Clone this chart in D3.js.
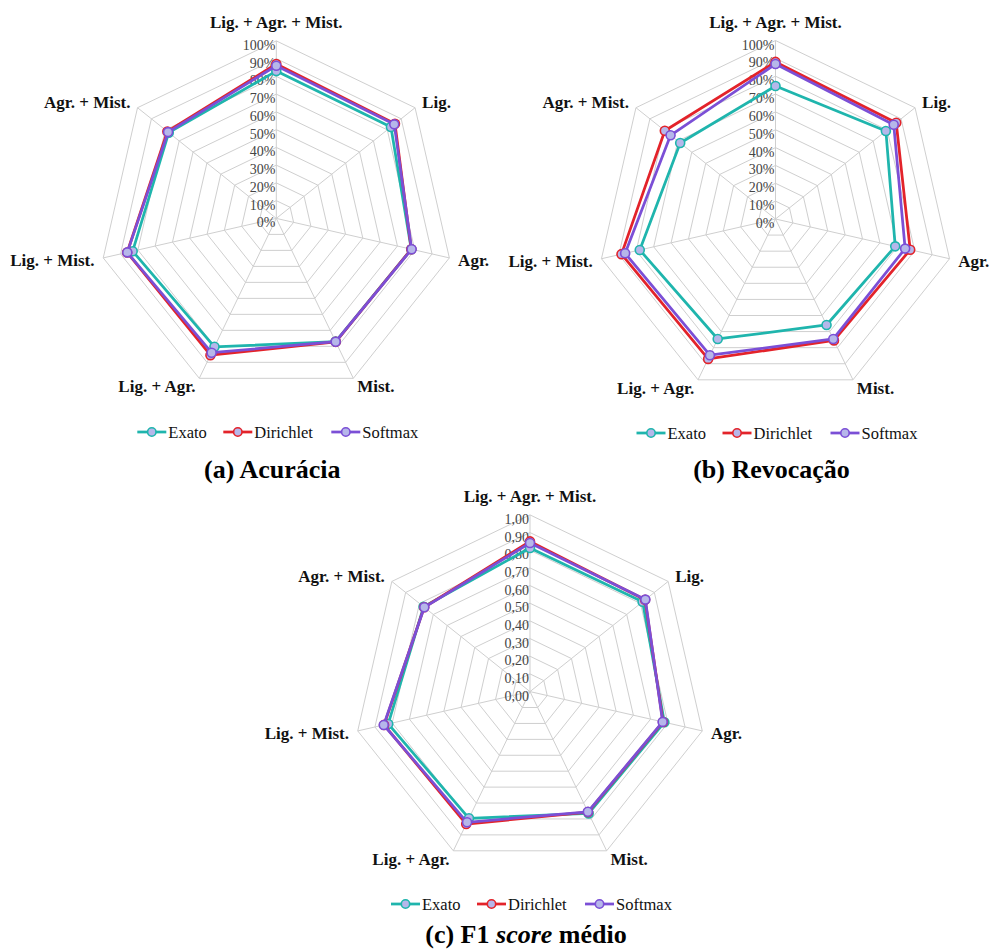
<!DOCTYPE html>
<html>
<head>
<meta charset="utf-8">
<script src="https://cdn.jsdelivr.net/npm/d3@7"></script>
<style>
  html, body { margin: 0; padding: 0; background: #fff; }
  svg { display: block; }
  svg text { font-family: "Liberation Serif", "Times New Roman", Tinos, serif; }
</style>
</head>
<body>
<svg id="fig" width="990" height="949"></svg>
<script>
// Axes of every radar, clockwise from the top
const categories = ["Lig. + Agr. + Mist.", "Lig.", "Agr.", "Mist.", "Lig. + Agr.", "Lig. + Mist.", "Agr. + Mist."];
const seriesNames = ["Exato", "Dirichlet", "Softmax"];
const seriesColors = ["#1fb5ad", "#e3232a", "#7b4fd6"];

// (a) Acurácia
const acuraciaExato     = [0.830, 0.826, 0.780, 0.770, 0.803, 0.830, 0.775];
const acuraciaDirichlet = [0.870, 0.855, 0.780, 0.772, 0.855, 0.862, 0.785];
const acuraciaSoftmax   = [0.860, 0.850, 0.782, 0.771, 0.840, 0.861, 0.780];

// (b) Revocação
const revocacaoExato     = [0.745, 0.791, 0.688, 0.659, 0.746, 0.780, 0.683];
const revocacaoDirichlet = [0.880, 0.865, 0.774, 0.755, 0.870, 0.885, 0.793];
const revocacaoSoftmax   = [0.868, 0.847, 0.745, 0.746, 0.847, 0.864, 0.752];

// (c) F1 score médio
const f1Exato     = [0.813, 0.815, 0.780, 0.765, 0.796, 0.823, 0.770];
const f1Dirichlet = [0.850, 0.833, 0.772, 0.757, 0.832, 0.847, 0.766];
const f1Softmax   = [0.841, 0.835, 0.770, 0.755, 0.821, 0.849, 0.765];

// Radial tick labels
const tickValues = [0, 0.1, 0.2, 0.3, 0.4, 0.5, 0.6, 0.7, 0.8, 0.9, 1.0];
const tickPercent = ["0%", "10%", "20%", "30%", "40%", "50%", "60%", "70%", "80%", "90%", "100%"];
const tickDecimal = ["0,00", "0,10", "0,20", "0,30", "0,40", "0,50", "0,60", "0,70", "0,80", "0,90", "1,00"];

const svg = d3.select("#fig");

function radar(opts) {
  const { cx, cy, R, series, ticks } = opts;
  const g = svg.append("g").attr("transform", `translate(${cx},${cy})`);
  const n = categories.length;
  const r = d3.scaleLinear().domain([0, 1]).range([0, R]);
  const angle = d3.scalePoint().domain(d3.range(n + 1)).range([0, 2 * Math.PI]);
  const ang = i => angle(i);                       // radians, clockwise from 12 o'clock
  const px = (i, v) => r(v) * Math.sin(ang(i));
  const py = (i, v) => -r(v) * Math.cos(ang(i));

  // grid rings
  const ring = d3.lineRadial().angle((d, i) => ang(i)).radius(d => r(d)).curve(d3.curveLinearClosed);
  g.selectAll(".ring").data(tickValues.slice(1)).enter().append("path")
    .attr("d", v => ring(d3.range(n).map(() => v)))
    .attr("fill", "none").attr("stroke", "#cfcfcf").attr("stroke-width", 1);

  // spokes
  g.selectAll(".spoke").data(d3.range(n)).enter().append("line")
    .attr("x1", 0).attr("y1", 0)
    .attr("x2", i => px(i, 1)).attr("y2", i => py(i, 1))
    .attr("stroke", "#cfcfcf").attr("stroke-width", 1);

  // radial tick labels along the top spoke
  g.selectAll(".tick").data(tickValues).enter().append("text")
    .attr("x", -1).attr("y", v => -r(v) + 9)
    .attr("text-anchor", "end")
    .attr("font-size", 14).attr("fill", "#444")
    .text((v, i) => ticks[i]);

  // category labels
  g.selectAll(".cat").data(categories).enter().append("text")
    .each(function (name, i) {
      const s = Math.sin(ang(i)), c = -Math.cos(ang(i));
      let x = px(i, 1) + s * 9, y = py(i, 1) + c * 9 + 6;
      let anchor = s > 0.1 ? "start" : s < -0.1 ? "end" : "middle";
      if (anchor === "middle") y = py(i, 1) - 13;
      d3.select(this).attr("x", x).attr("y", y).attr("text-anchor", anchor);
    })
    .attr("font-size", 17).attr("font-weight", "bold").attr("fill", "#111")
    .text(d => d);

  // series polygons and markers
  const line = d3.lineRadial().angle((d, i) => ang(i)).radius(d => r(d)).curve(d3.curveLinearClosed);
  series.forEach((vals, k) => {
    const sg = g.append("g");
    sg.append("path").attr("d", line(vals))
      .attr("fill", "none").attr("stroke", seriesColors[k]).attr("stroke-width", 2.75)
      .attr("stroke-linejoin", "round");
    sg.selectAll("circle").data(vals).enter().append("circle")
      .attr("cx", (v, i) => px(i, v)).attr("cy", (v, i) => py(i, v))
      .attr("r", 4.5).attr("fill", "#b6b7ea").attr("stroke", seriesColors[k]).attr("stroke-width", 1.6);
  });

  // legend
  const lg = svg.append("g").attr("transform", `translate(${cx - 139},${opts.legendY})`);
  const offsets = [0, 86, 194];
  seriesNames.forEach((name, k) => {
    const it = lg.append("g").attr("transform", `translate(${offsets[k]},0)`);
    it.append("line").attr("x1", 0).attr("x2", 29).attr("y1", 0).attr("y2", 0)
      .attr("stroke", seriesColors[k]).attr("stroke-width", 2.75);
    it.append("circle").attr("cx", 14.5).attr("cy", 0).attr("r", 4.2)
      .attr("fill", "#b6b7ea").attr("stroke", seriesColors[k]).attr("stroke-width", 1.6);
    it.append("text").attr("x", 31).attr("y", 5.5)
      .attr("font-size", 16.5).attr("fill", "#111").text(name);
  });

  // caption
  const t = svg.append("text").attr("x", cx - 4).attr("y", opts.titleY)
    .attr("text-anchor", "middle")
    .attr("font-size", 26).attr("font-weight", "bold").attr("fill", "#000");
  opts.title.forEach(part => {
    t.append("tspan").attr("font-style", part.italic ? "italic" : "normal").text(part.text);
  });
}

radar({
  cx: 276.3, cy: 218.4, R: 177.5, ticks: tickPercent,
  series: [acuraciaExato, acuraciaDirichlet, acuraciaSoftmax],
  legendY: 432, titleY: 478,
  title: [{ text: "(a) Acurácia" }]
});

radar({
  cx: 775.5, cy: 219, R: 178.5, ticks: tickPercent,
  series: [revocacaoExato, revocacaoDirichlet, revocacaoSoftmax],
  legendY: 433, titleY: 478,
  title: [{ text: "(b) Revocação" }]
});

radar({
  cx: 530, cy: 691.6, R: 176.7, ticks: tickDecimal,
  series: [f1Exato, f1Dirichlet, f1Softmax],
  legendY: 904, titleY: 943,
  title: [{ text: "(c) F1 " }, { text: "score", italic: true }, { text: " médio" }]
});
</script>
</body>
</html>
